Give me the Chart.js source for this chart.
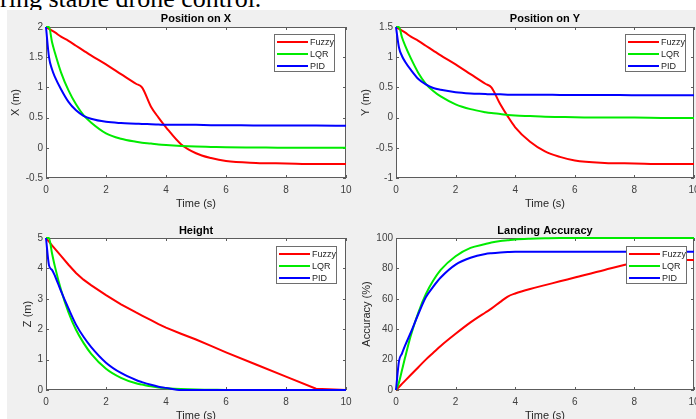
<!DOCTYPE html>
<html>
<head>
<meta charset="utf-8">
<script src="https://cdn.jsdelivr.net/npm/chart.js@4.4.1/dist/chart.umd.min.js"></script>
<style>
  html, body { margin: 0; padding: 0; background: #fff; width: 696px; height: 419px; overflow: hidden; position: relative; }
  #caption { position: absolute; left: 0; top: -14px; font-family: "Liberation Serif", "DejaVu Serif", serif; font-size: 26px; line-height: 26px; color: #000; white-space: nowrap; }
  #figure { position: absolute; left: 7px; top: 10px; width: 689px; height: 409px; background: #f0f0f0; }
  .plot { position: absolute; }
</style>
</head>
<body>
<div id="caption">ring stable drone control.</div>
<div id="figure"></div>
<div class="plot" style="left:7px;top:10px;width:349px;height:201px"><canvas id="chartX"></canvas></div>
<div class="plot" style="left:356px;top:10px;width:350px;height:201px"><canvas id="chartY"></canvas></div>
<div class="plot" style="left:7px;top:221px;width:349px;height:202px"><canvas id="chartZ"></canvas></div>
<div class="plot" style="left:356px;top:221px;width:350px;height:202px"><canvas id="chartA"></canvas></div>
<script>
// sample times (s), shared by every series
const time = [0, 0.1, 0.2, 0.3, 0.5, 0.75, 1, 1.25, 1.5, 2, 2.5, 3, 3.2, 3.5, 3.75, 4, 4.5, 5, 5.5, 6, 7, 8, 9, 10];
const seriesNames = ["Fuzzy", "LQR", "PID"];
const seriesColors = ["rgb(255, 0, 0)", "rgb(0, 235, 0)", "rgb(0, 0, 255)"];
const timeTicks = [0, 2, 4, 6, 8, 10];

// Position on X (m)
const xFuzzy = [2, 1.97, 1.94, 1.91, 1.84, 1.77, 1.69, 1.61, 1.53, 1.38, 1.22, 1.06, 1.0, 0.68, 0.5, 0.34, 0.06, -0.09, -0.17, -0.22, -0.25, -0.26, -0.27, -0.27];
const xLqr = [2, 2, 1.75, 1.57, 1.25, 0.95, 0.72, 0.54, 0.42, 0.24, 0.15, 0.1, 0.085, 0.07, 0.055, 0.045, 0.03, 0.02, 0.015, 0.01, 0.005, 0, 0, 0];
const xPid = [2, 1.5, 1.3, 1.17, 0.97, 0.76, 0.62, 0.53, 0.48, 0.43, 0.41, 0.4, 0.395, 0.39, 0.385, 0.38, 0.38, 0.38, 0.375, 0.375, 0.37, 0.37, 0.37, 0.365];
const xTicks = [-0.5, 0, 0.5, 1, 1.5, 2];

// Position on Y (m)
const yFuzzy = [1.5, 1.47, 1.44, 1.41, 1.34, 1.27, 1.19, 1.11, 1.03, 0.88, 0.72, 0.56, 0.5, 0.22, 0.02, -0.16, -0.4, -0.56, -0.65, -0.71, -0.75, -0.76, -0.77, -0.77];
const yLqr = [1.5, 1.5, 1.33, 1.2, 0.98, 0.74, 0.56, 0.44, 0.35, 0.22, 0.14, 0.09, 0.075, 0.06, 0.045, 0.035, 0.025, 0.015, 0.01, 0.005, 0, 0, -0.005, -0.005];
const yPid = [1.5, 1.16, 1.02, 0.93, 0.79, 0.64, 0.55, 0.49, 0.46, 0.42, 0.4, 0.39, 0.385, 0.385, 0.38, 0.38, 0.38, 0.38, 0.375, 0.375, 0.375, 0.37, 0.37, 0.37];
const yTicks = [-1, -0.5, 0, 0.5, 1, 1.5];

// Height (m)
const zFuzzy = [5, 4.88, 4.76, 4.64, 4.41, 4.12, 3.85, 3.63, 3.45, 3.12, 2.82, 2.55, 2.45, 2.3, 2.17, 2.05, 1.85, 1.66, 1.45, 1.24, 0.84, 0.44, 0.04, 0];
const zLqr = [5, 5, 4.5, 4.05, 3.3, 2.55, 1.98, 1.55, 1.2, 0.7, 0.4, 0.22, 0.18, 0.12, 0.08, 0.06, 0.03, 0.015, 0.01, 0, 0, 0, 0, 0];
const zPid = [5, 4.1, 3.95, 3.75, 3.25, 2.68, 2.15, 1.75, 1.42, 0.9, 0.56, 0.33, 0.26, 0.17, 0.11, 0.07, 0, 0, 0, 0, 0, 0, 0, 0];
const zTicks = [0, 1, 2, 3, 4, 5];

// Landing accuracy (%)
const accFuzzy = [0, 2, 4, 6, 10, 15, 20, 24.5, 29, 37, 44.5, 51, 53.5, 58, 61.5, 63.5, 66.5, 69, 71.5, 74, 79, 83.5, 85.5, 85.5];
const accLqr = [0, 5, 13, 21, 36, 51, 63, 72, 79, 88, 93.5, 96, 97, 98, 98.5, 99, 99.5, 99.8, 100, 100, 100, 100, 100, 100];
const accPid = [0, 19, 24, 29, 38, 50, 61, 68, 74, 82.5, 87, 89.5, 90, 90.5, 90.8, 91, 91, 91, 91, 91, 91, 91, 91, 91];
const accTicks = [0, 20, 40, 60, 80, 100];

const FONT = "'Liberation Sans', Arial, sans-serif";
Chart.defaults.font.family = FONT;

// white axes area, box and inward ticks, MATLAB style
const plotFrame = {
  id: "plotFrame",
  beforeDraw(chart) {
    const { ctx, chartArea: a } = chart;
    ctx.save();
    ctx.fillStyle = "#ffffff";
    ctx.fillRect(a.left, a.top, a.right - a.left, a.bottom - a.top);
    ctx.restore();
  },
  beforeDatasetsDraw(chart) {
    const { ctx, chartArea: a, scales } = chart;
    ctx.save();
    ctx.strokeStyle = "#5c5c5c";
    ctx.lineWidth = 1;
    ctx.strokeRect(a.left + 0.5, a.top + 0.5, a.right - a.left - 1, a.bottom - a.top - 1);
    ctx.beginPath();
    scales.x.ticks.forEach((t) => {
      const px = Math.round(scales.x.getPixelForValue(t.value)) + 0.5;
      ctx.moveTo(px, a.bottom);
      ctx.lineTo(px, a.bottom - 3);
      ctx.moveTo(px, a.top);
      ctx.lineTo(px, a.top + 3);
    });
    scales.y.ticks.forEach((t) => {
      const py = Math.round(scales.y.getPixelForValue(t.value)) + 0.5;
      ctx.moveTo(a.left, py);
      ctx.lineTo(a.left + 3, py);
      ctx.moveTo(a.right, py);
      ctx.lineTo(a.right - 3, py);
    });
    ctx.stroke();
    ctx.restore();
  },
};

// legend box drawn inside the axes, top right
const boxLegend = {
  id: "boxLegend",
  afterDatasetsDraw(chart, args, opts) {
    const { ctx, chartArea: a } = chart;
    const w = 61;
    const h = 38;
    const x0 = Math.round(a.right - opts.right - w);
    const y0 = Math.round(a.top + opts.top);
    ctx.save();
    ctx.fillStyle = "#ffffff";
    ctx.fillRect(x0, y0, w, h);
    ctx.strokeStyle = "#6e6e6e";
    ctx.lineWidth = 1;
    ctx.strokeRect(x0 + 0.5, y0 + 0.5, w - 1, h - 1);
    ctx.font = "9px " + FONT;
    ctx.textBaseline = "middle";
    chart.data.datasets.forEach((ds, i) => {
      const y = y0 + 8 + i * 12;
      ctx.strokeStyle = ds.borderColor;
      ctx.lineWidth = 2;
      ctx.beginPath();
      ctx.moveTo(x0 + 3, y);
      ctx.lineTo(x0 + 34, y);
      ctx.stroke();
      ctx.fillStyle = "#262626";
      ctx.fillText(ds.label, x0 + 36, y + 0.5);
    });
    ctx.restore();
  },
};

function makeChart(id, frame, title, yLabel, ticks, series) {
  new Chart(document.getElementById(id), {
    type: "line",
    data: {
      datasets: series.map((values, i) => ({
        label: seriesNames[i],
        data: time.map((t, k) => ({ x: t, y: values[k] })),
        borderColor: seriesColors[i],
        backgroundColor: seriesColors[i],
        borderWidth: 2,
        pointRadius: 0,
        // the fuzzy height run ends on a sharp corner, keep it straight
        cubicInterpolationMode: i === 0 && frame.straightFuzzy ? "default" : "monotone",
        tension: 0,
        clip: 3,
        order: 3 - i,
      })),
    },
    options: {
      responsive: true,
      maintainAspectRatio: false,
      animation: false,
      events: [],
      layout: {
        padding: { left: 0, top: 0, right: frame.padRight, bottom: 0 },
      },
      scales: {
        x: {
          type: "linear",
          min: 0,
          max: 10,
          afterBuildTicks: (s) => {
            s.ticks = timeTicks.map((v) => ({ value: v }));
          },
          afterFit: (s) => {
            s.height = frame.xHeight;
            s.paddingLeft = 0;
            s.paddingRight = 0;
          },
          grid: { display: false, drawTicks: false },
          border: { display: false },
          ticks: {
            padding: 6,
            color: "#404040",
            maxRotation: 0,
            autoSkip: false,
            font: { size: 10 },
            callback: (v) => String(v),
          },
          title: {
            display: true,
            text: "Time (s)",
            color: "#262626",
            font: { size: 11 },
            padding: { top: 0, bottom: 0 },
          },
        },
        y: {
          type: "linear",
          min: ticks[0],
          max: ticks[ticks.length - 1],
          afterBuildTicks: (s) => {
            s.ticks = ticks.map((v) => ({ value: v }));
          },
          afterFit: (s) => {
            s.width = frame.yWidth;
            s.paddingTop = 0;
            s.paddingBottom = 0;
          },
          grid: { display: false, drawTicks: false },
          border: { display: false },
          ticks: {
            padding: 3,
            color: "#404040",
            autoSkip: false,
            font: { size: 10 },
            callback: (v) => String(v),
          },
          title: {
            display: true,
            text: yLabel,
            color: "#262626",
            font: { size: 11 },
            padding: { top: frame.yTitlePad, bottom: 0 },
          },
        },
      },
      plugins: {
        legend: { display: false },
        tooltip: { enabled: false },
        title: {
          display: true,
          text: title,
          fullSize: false,
          color: "#000000",
          font: { size: 11, weight: "bold", lineHeight: 1.2 },
          padding: { top: frame.titleTop, bottom: frame.titleBottom },
        },
        boxLegend: frame.legend,
      },
    },
    plugins: [plotFrame, boxLegend],
  });
}

makeChart("chartX",
  { padRight: 10, yWidth: 39, xHeight: 33, titleTop: 2.4, titleBottom: 1.4, yTitlePad: 2.4, legend: { right: 11, top: 7 } },
  "Position on X", "X (m)", xTicks, [xFuzzy, xLqr, xPid]);

makeChart("chartY",
  { padRight: 12, yWidth: 40, xHeight: 33, titleTop: 2.4, titleBottom: 1.4, yTitlePad: 3.4, legend: { right: 8, top: 7 } },
  "Position on Y", "Y (m)", yTicks, [yFuzzy, yLqr, yPid]);

makeChart("chartZ",
  { padRight: 10, yWidth: 39, xHeight: 33, titleTop: 3.4, titleBottom: 0.4, yTitlePad: 14.4, legend: { right: 9, top: 8 }, straightFuzzy: true },
  "Height", "Z (m)", zTicks, [zFuzzy, zLqr, zPid]);

makeChart("chartA",
  { padRight: 12, yWidth: 40, xHeight: 33, titleTop: 3.4, titleBottom: 0.4, yTitlePad: 4.4, legend: { right: 7, top: 8 } },
  "Landing Accuracy", "Accuracy (%)", accTicks, [accFuzzy, accLqr, accPid]);
</script>
</body>
</html>
